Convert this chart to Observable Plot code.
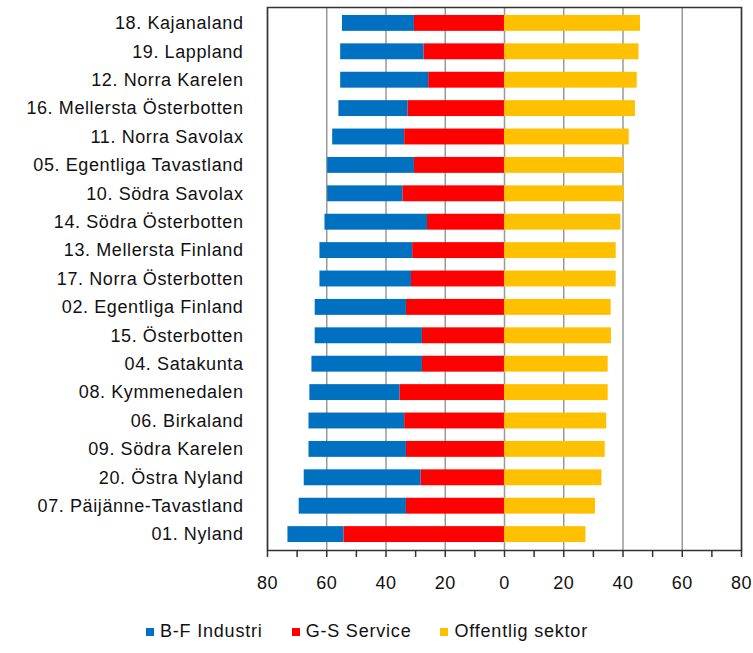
<!DOCTYPE html>
<html>
<head>
<meta charset="utf-8">
<script src="https://cdn.jsdelivr.net/npm/d3@7"></script>
<script src="https://cdn.jsdelivr.net/npm/@observablehq/plot@0.6"></script>
<style>
  body { margin: 0; background: #fff; font-family: "Liberation Sans", Arial, sans-serif; }
  #chart svg { display: block; }
  .legend { display: flex; align-items: center; height: 43px; padding-left: 146px; font-size: 18px; letter-spacing: 0.8px; color: #111; }
  .legend .item { display: flex; align-items: center; margin-right: 29px; }
  .legend .sw { width: 8px; height: 8px; margin-right: 6px; display: inline-block; }
</style>
</head>
<body>
<div id="chart"></div>
<div class="legend" id="legend"></div>
<script>
const regions = [
  "18. Kajanaland", "19. Lappland", "12. Norra Karelen", "16. Mellersta Österbotten",
  "11. Norra Savolax", "05. Egentliga Tavastland", "10. Södra Savolax", "14. Södra Österbotten",
  "13. Mellersta Finland", "17. Norra Österbotten", "02. Egentliga Finland", "15. Österbotten",
  "04. Satakunta", "08. Kymmenedalen", "06. Birkaland", "09. Södra Karelen",
  "20. Östra Nyland", "07. Päijänne-Tavastland", "01. Nyland"
];
const industri = [24.3, 28.1, 29.7, 23.3, 24.3, 29.3, 25.4, 34.6, 31.3, 30.9, 30.8, 36.2, 37.3, 30.4, 32.3, 32.9, 39.4, 36.2, 18.9];
const service  = [30.4, 27.2, 25.6, 32.6, 33.7, 30.4, 34.3, 26.0, 31.0, 31.4, 33.1, 27.7, 27.7, 35.3, 33.7, 33.1, 28.2, 33.1, 54.2];
const offentlig = [45.9, 45.4, 44.8, 44.2, 42.1, 40.4, 40.4, 39.3, 37.7, 37.7, 36.0, 36.1, 35.0, 35.0, 34.5, 34.0, 32.9, 30.7, 27.5];
const seriesNames = ["B-F Industri", "G-S Service", "Offentlig sektor"];
const seriesColors = ["#0070C0", "#FF0000", "#FFC000"];
const xTicks = [-80, -60, -40, -20, 0, 20, 40, 60, 80];

const rows = [];
regions.forEach((r, i) => {
  rows.push({region: r, series: seriesNames[1], x1: 0, x2: -service[i]});
  rows.push({region: r, series: seriesNames[0], x1: -service[i], x2: -(service[i] + industri[i])});
  rows.push({region: r, series: seriesNames[2], x1: 0, x2: offentlig[i]});
});

const chart = Plot.plot({
  width: 753,
  height: 610,
  marginLeft: 267,
  marginRight: 12,
  marginTop: 7,
  marginBottom: 60,
  style: {fontFamily: "Liberation Sans, Arial, sans-serif", fontSize: "18px", color: "#111", background: "#fff", letterSpacing: "0.6px"},
  x: {domain: [-80, 80]},
  y: {domain: regions, paddingInner: 0.44, paddingOuter: 0.28, round: false},
  color: {domain: seriesNames, range: seriesColors},
  marks: [
    Plot.gridX(xTicks, {stroke: "#999", strokeOpacity: 1, strokeWidth: 1.5}),
    Plot.barX(rows, {y: "region", x1: "x1", x2: "x2", fill: "series", inset: 0}),
    Plot.frame({stroke: "#333", strokeWidth: 1.5}),
    Plot.axisX({ticks: d3.range(-80, 81, 10), tickFormat: d => d % 20 === 0 ? String(Math.abs(d)) : "", tickSize: 7, tickPadding: 19, stroke: "#333", strokeWidth: 1.5, fontSize: 18, label: null}),
    Plot.axisY({tickSize: 0, tickPadding: 24, fontSize: 18, label: null})
  ]
});
document.getElementById("chart").appendChild(chart);

const legend = document.getElementById("legend");
seriesNames.forEach((name, i) => {
  const item = document.createElement("div");
  item.className = "item";
  const sw = document.createElement("span");
  sw.className = "sw";
  sw.style.background = seriesColors[i];
  const t = document.createElement("span");
  t.textContent = name;
  item.appendChild(sw);
  item.appendChild(t);
  legend.appendChild(item);
});
</script>
</body>
</html>
